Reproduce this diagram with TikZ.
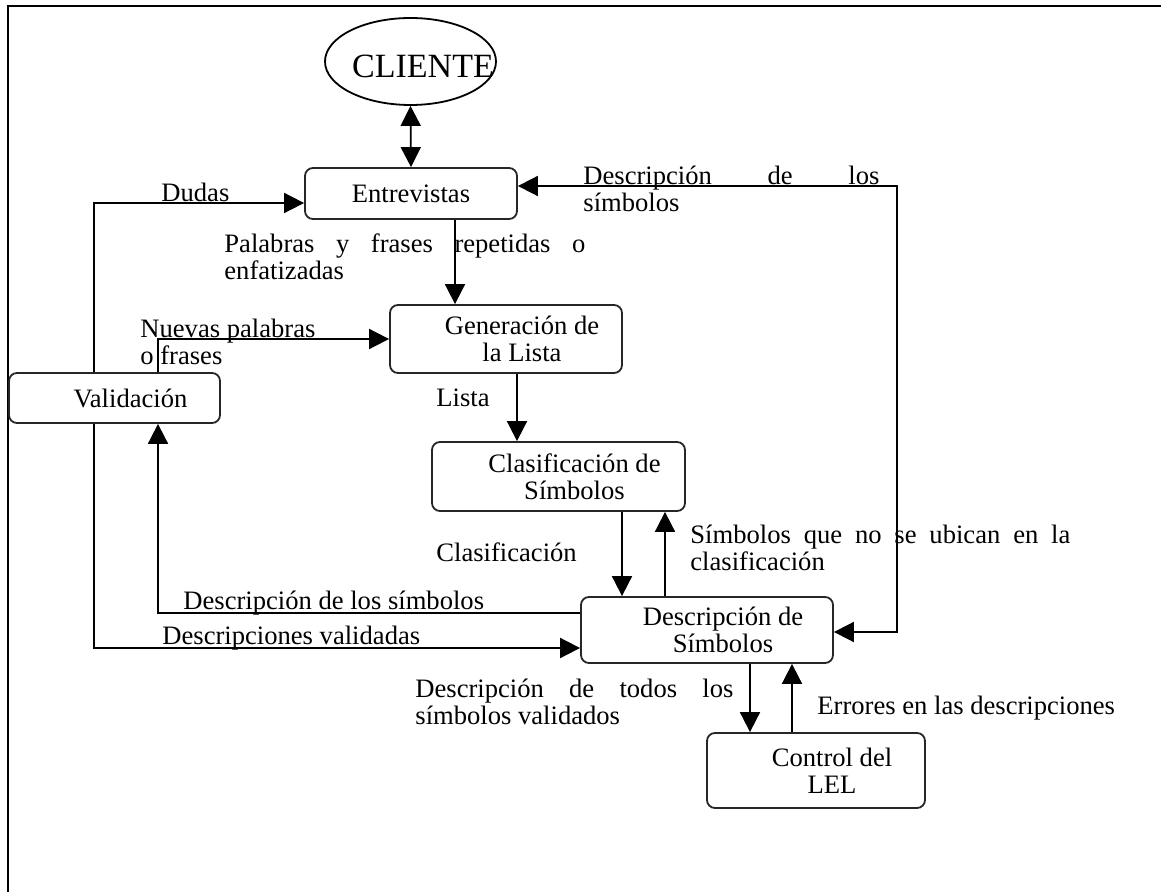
\documentclass[tikz,border=0pt]{standalone}
\usepackage{fontspec}
\setmainfont{Liberation Serif}
\usetikzlibrary{arrows.meta,shapes.geometric}
\newcommand{\sangria}{\hspace*{16pt}}

\begin{document}
\begin{tikzpicture}[
    x=0.5pt, y=-0.5pt,
    font=\fontsize{13.3}{13.5}\selectfont,
    >={Triangle[length=10pt,width=10pt]},
    caja/.style={rectangle, rounded corners=4pt, draw=black!85, line width=0.9pt, align=center, inner sep=0pt},
    etiqueta/.style={anchor=west, align=left, inner sep=0pt},
    flujo/.style={draw, line width=0.9pt, ->},
    doble/.style={draw, line width=0.9pt, <->}
    ]
    \useasboundingbox (0,0) rectangle (1161,892);

    % Marco
    \draw[line width=1.2pt] (8,892) -- (8,6) -- (1161,6);

    % Cliente
    \node[ellipse, draw, line width=0.9pt, inner sep=0pt, minimum width=85.5pt, minimum height=43.5pt,
      label={[xshift=6.25pt, yshift=-2.25pt, font=\fontsize{17}{20}\selectfont]center:CLIENTE}] (cliente) at (410.5,61.5) {};

    % Procesos
    \node[caja, minimum width=106pt, minimum height=25.5pt] (entrev) at (411,193.5) {Entrevistas};
    \node[caja, minimum width=116pt, minimum height=34pt] (gener) at (506,339) {\sangria Generación de\\ \sangria la Lista};
    \node[caja, minimum width=105.5pt, minimum height=25pt] (valid) at (114.5,398) {\sangria Validación};
    \node[caja, minimum width=126.5pt, minimum height=34.5pt] (clasif) at (558.5,476.5) {\sangria Clasificación de\\ \sangria Símbolos};
    \node[caja, minimum width=126pt, minimum height=33pt] (desc) at (707,630) {\sangria Descripción de\\ \sangria Símbolos};
    \node[caja, minimum width=109pt, minimum height=37.5pt] (control) at (816,770.5) {\sangria Control del\\ \sangria LEL};

    % Columnas de las lineas
    \coordinate (colA) at (94,0);
    \coordinate (colB) at (158,0);
    \coordinate (colD) at (455,0);
    \coordinate (colE) at (517,0);
    \coordinate (colF) at (622,0);
    \coordinate (colG) at (665,0);
    \coordinate (colH) at (750,0);
    \coordinate (colI) at (792,0);
    \coordinate (esqA) at (897,186);
    \coordinate (esqB) at (897,632);

    % Conectores
    \draw[doble] (cliente.south) -- (entrev.north);
    \draw[flujo] (valid.north -| colA) |- ([yshift=-4.75pt]entrev.west);
    \draw[flujo] (valid.north -| colB) |- (gener.west);
    \draw[flujo] (entrev.south -| colD) -- (gener.north -| colD);
    \draw[flujo] (gener.south -| colE) -- (clasif.north -| colE);
    \draw[flujo] (clasif.south -| colF) -- (desc.north -| colF);
    \draw[flujo] (desc.north -| colG) -- (clasif.south -| colG);
    \draw[flujo] ([yshift=8.5pt]desc.west) -| (valid.south -| colB);
    \draw[flujo] (valid.south -| colA) |- ([yshift=-9pt]desc.west);
    \draw[doble] ([yshift=3.75pt]entrev.east) -- (esqA) -- (esqB) -- ([yshift=-1pt]desc.east);
    \draw[flujo] (desc.south -| colH) -- (control.north -| colH);
    \draw[flujo] (control.north -| colI) -- (desc.south -| colI);

    % Etiquetas
    \node[etiqueta] (dudas) at (161,192) {Dudas};
    \node[etiqueta] (palabras) at (224,256.5) {\makebox[180.5pt][s]{Palabras y frases repetidas o}\\enfatizadas};
    \node[etiqueta] (simbtop) at (583,189) {\makebox[148pt][s]{Descripción de los}\\símbolos};
    \node[etiqueta] (nuevas) at (140,341.5) {Nuevas palabras\\o frases};
    \node[etiqueta] (lista) at (436,398) {Lista};
    \node[etiqueta] (clasiflbl) at (436,552) {Clasificación};
    \node[etiqueta] (noubican) at (690,548) {\makebox[190pt][s]{Símbolos que no se ubican en la}\\clasificación};
    \node[etiqueta] (descizq) at (183,603) {Descripción de los símbolos};
    \node[etiqueta] (validadas) at (162,638) {Descripciones validadas};
    \node[etiqueta] (todos) at (415,701.5) {\makebox[159pt][s]{Descripción de todos los}\\símbolos validados};
    \node[etiqueta] (errores) at (817,708) {Errores en las descripciones};

\end{tikzpicture}
\end{document}
